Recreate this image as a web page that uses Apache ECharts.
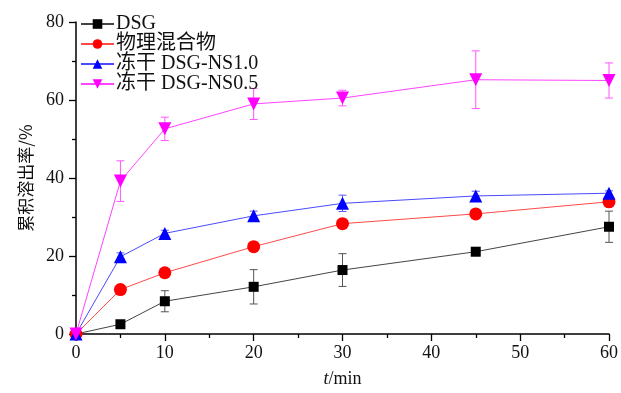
<!DOCTYPE html>
<html><head><meta charset="utf-8">
<script src="https://cdn.jsdelivr.net/npm/echarts@6/dist/echarts.min.js"></script>
<style>html,body{margin:0;padding:0;background:#fff}#c{width:621px;height:393px}</style>
</head><body><div id="c"></div>
<script>
const times = [0, 5, 10, 20, 30, 45, 60];
const seriesNames = ['DSG', '物理混合物', '冻干 DSG-NS1.0', '冻干 DSG-NS0.5'];
const dsg = [0, 2.5, 8.4, 12.1, 16.4, 21.1, 27.5];
const dsgErr = [0, 0.5, 2.7, 4.4, 4.2, 1.0, 4.0];
const mix = [0, 11.4, 15.7, 22.4, 28.3, 30.8, 33.9];
const mixErr = [0, 0.4, 0.6, 1.2, 0.6, 0.6, 0.8];
const ns10 = [0, 19.8, 25.8, 30.3, 33.5, 35.4, 36.1];
const ns10Err = [0, 1.0, 0.8, 1.2, 2.1, 1.2, 0.6];
const ns05 = [0, 39.2, 52.6, 59.0, 60.5, 65.2, 65.0];
const ns05Err = [0, 5.2, 3.0, 4.0, 2.0, 7.4, 4.5];

const lineColors = ['#444444', '#ff4a4a', '#4a4aff', '#ff44ff'];
const markColors = ['#000000', '#ff0000', '#0000ff', '#ff00ff'];
const errColors = ['#555555', '#ff6a6a', '#5a5aff', '#ff55ff'];
const symbols = ['rect', 'circle', 'triangle', 'triangle'];
const symSizes = [10, 13, 13, 13];
const rotates = [0, 0, 0, 180];
const vals = [dsg, mix, ns10, ns05];
const errs = [dsgErr, mixErr, ns10Err, ns05Err];

const FONT = '"Liberation Serif", "Noto Sans CJK SC", serif';

const series = [];
vals.forEach((v, i) => {
  series.push({
    type: 'custom', name: seriesNames[i] + '_err', silent: true, z: 1,
    data: times.map((t, k) => [t, v[k] - errs[i][k], v[k] + errs[i][k]]),
    renderItem: function (params, api) {
      const lo = api.coord([api.value(0), api.value(1)]);
      const hi = api.coord([api.value(0), api.value(2)]);
      if (Math.abs(lo[1] - hi[1]) < 1) return null;
      const w = 4;
      const st = { stroke: errColors[i], lineWidth: 1 };
      return { type: 'group', children: [
        { type: 'line', shape: { x1: lo[0], y1: lo[1], x2: hi[0], y2: hi[1] }, style: st },
        { type: 'line', shape: { x1: lo[0] - w, y1: lo[1], x2: lo[0] + w, y2: lo[1] }, style: st },
        { type: 'line', shape: { x1: hi[0] - w, y1: hi[1], x2: hi[0] + w, y2: hi[1] }, style: st }
      ]};
    }
  });
  series.push({
    type: 'line', name: seriesNames[i], z: 3 + i,
    data: times.map((t, k) => [t, v[k]]),
    symbol: symbols[i], symbolSize: symSizes[i], symbolRotate: rotates[i],
    showAllSymbol: true,
    lineStyle: { color: lineColors[i], width: 1 },
    itemStyle: { color: markColors[i] },
    emphasis: { disabled: true }
  });
});

const chart = echarts.init(document.getElementById('c'), null, { renderer: 'canvas' });
chart.setOption({
  animation: false,
  backgroundColor: '#fff',
  grid: { left: 76, right: 12, top: 22, bottom: 59, containLabel: false },
  legend: {
    data: seriesNames, orient: 'vertical', left: 80, top: 14, padding: 0,
    itemWidth: 33, itemHeight: 12, itemGap: 0,
    textStyle: { fontFamily: FONT, fontSize: 20, lineHeight: 17, color: '#111', padding: [0, 0, 0, -3] },
    selectedMode: false
  },
  xAxis: {
    type: 'value', min: 0, max: 60, interval: 10,
    name: '{i|t}/min', nameLocation: 'middle', nameGap: 36,
    nameTextStyle: { fontFamily: FONT, fontSize: 18, color: '#111',
      rich: { i: { fontFamily: FONT, fontStyle: 'italic', fontSize: 18, color: '#111' } } },
    axisLine: { lineStyle: { color: '#000', width: 1.5 } },
    axisTick: { inside: false, length: 7, lineStyle: { color: '#000', width: 1.3 } },
    minorTick: { show: true, splitNumber: 2, length: 4, lineStyle: { color: '#000', width: 1.3 } },
    axisLabel: { fontFamily: FONT, fontSize: 18, color: '#111', margin: 10 },
    splitLine: { show: false }
  },
  yAxis: {
    type: 'value', min: 0, max: 80, interval: 20,
    name: '累积溶出率/%', nameLocation: 'middle', nameGap: 42, nameRotate: 90,
    nameTextStyle: { fontFamily: '"Noto Sans CJK SC", "Liberation Serif", sans-serif', fontSize: 17, color: '#111' },
    axisLine: { show: true, lineStyle: { color: '#000', width: 1.5 } },
    axisTick: { show: true, inside: false, length: 7, lineStyle: { color: '#000', width: 1.3 } },
    minorTick: { show: true, splitNumber: 2, length: 4, lineStyle: { color: '#000', width: 1.3 } },
    axisLabel: { fontFamily: FONT, fontSize: 18, color: '#111', margin: 12 },
    splitLine: { show: false }
  },
  series: series
});
</script></body></html>
